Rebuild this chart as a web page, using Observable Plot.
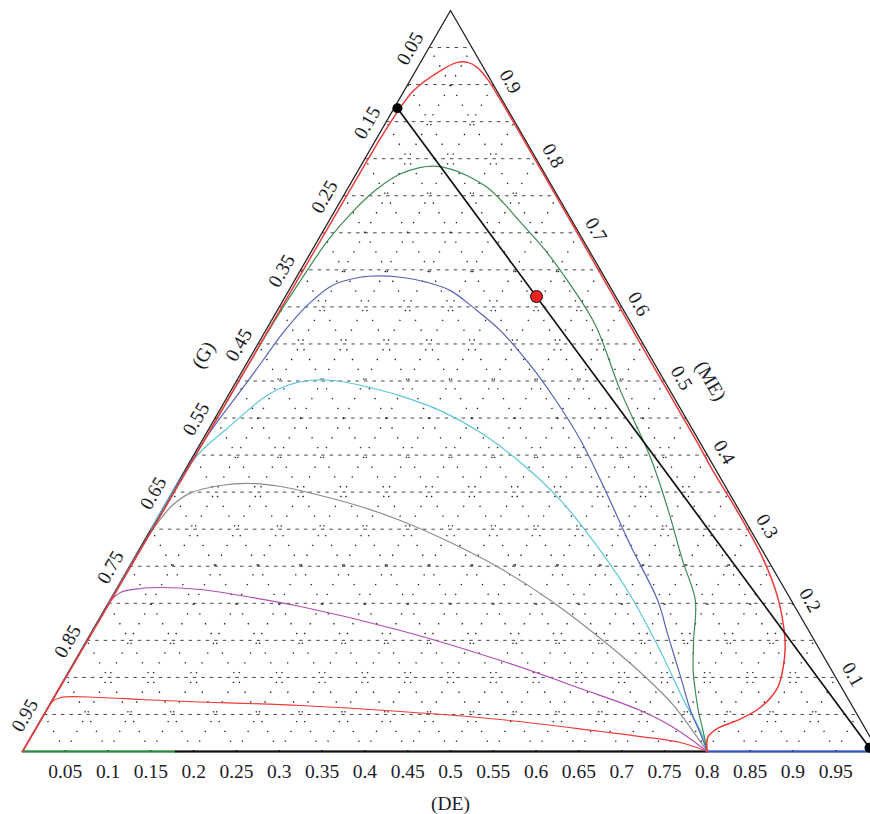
<!DOCTYPE html>
<html><head><meta charset="utf-8">
<script src="https://cdn.jsdelivr.net/npm/d3@7"></script>
<script src="https://cdn.jsdelivr.net/npm/@observablehq/plot@0.6"></script>
<style>html,body{margin:0;padding:0;overflow:hidden;background:#fff}</style>
</head><body><div id="chart"></div>
<script>
// Ternary data: each point is [DE, ME]; G = 1 - DE - ME
const gridLevels = [0.05,0.1,0.15,0.2,0.25,0.3,0.35,0.4,0.45,0.5,0.55,0.6,0.65,0.7,0.75,0.8,0.85,0.9,0.95];
const deTicks = [0.05,0.1,0.15,0.2,0.25,0.3,0.35,0.4,0.45,0.5,0.55,0.6,0.65,0.7,0.75,0.8,0.85,0.9,0.95];
const deLabels = ["0.05","0.1","0.15","0.2","0.25","0.3","0.35","0.4","0.45","0.5","0.55","0.6","0.65","0.7","0.75","0.8","0.85","0.9","0.95"];
const gTicks = [0.05,0.15,0.25,0.35,0.45,0.55,0.65,0.75,0.85,0.95];
const gLabels = ["0.05","0.15","0.25","0.35","0.45","0.55","0.65","0.75","0.85","0.95"];
const meTicks = [0.1,0.2,0.3,0.4,0.5,0.6,0.7,0.8,0.9];
const meLabels = ["0.1","0.2","0.3","0.4","0.5","0.6","0.7","0.8","0.9"];

const triangle = [[0,0],[1,0],[0,1],[0,0]];
const greenBase = [[0,0],[0.179,0]];
const blackBase = [[0.179,0],[0.8,0]];
const blueBase = [[0.8,0],[1,0]];

const redOuter = [[0,0],[0.002,0.3],[0.003,0.6],[0.004,0.8],[0.005,0.842],[0.011,0.892],[0.029,0.919],[0.043,0.930],[0.055,0.930],[0.070,0.923],[0.091,0.906],[0.119,0.879],[0.3,0.698],[0.45,0.547],[0.578,0.419],[0.617,0.379],[0.658,0.339],[0.699,0.298],[0.737,0.258],[0.776,0.211],[0.804,0.170],[0.821,0.140],[0.832,0.113],[0.839,0.086],[0.832,0.059],[0.814,0.042],[0.796,0.031],[0.791,0.019],[0.8,0]];
const greenCurve = [[0,0],[0.002,0.35],[0.004,0.58],[0.007,0.635],[0.012,0.690],[0.021,0.727],[0.034,0.758],[0.051,0.779],[0.07,0.788],[0.0854,0.790],[0.1073,0.786],[0.1312,0.777],[0.1626,0.761],[0.1921,0.740],[0.2211,0.717],[0.273,0.676],[0.326,0.629],[0.382,0.575],[0.455,0.487],[0.535,0.397],[0.592,0.325],[0.642,0.258],[0.684,0.204],[0.709,0.150],[0.729,0.109],[0.745,0.082],[0.762,0.055],[0.781,0.028],[0.8,0]];
const blueCurve = [[0,0],[0.001,0.3],[0.002,0.41],[0.005,0.445],[0.009,0.47],[0.013,0.497],[0.017,0.528],[0.022,0.566],[0.032,0.603],[0.0475,0.629],[0.0744,0.640],[0.097,0.642],[0.1218,0.640],[0.1566,0.633],[0.1889,0.622],[0.2273,0.599],[0.2743,0.568],[0.333,0.521],[0.3859,0.474],[0.442,0.420],[0.505,0.352],[0.5713,0.278],[0.640,0.204],[0.674,0.159],[0.719,0.100],[0.753,0.055],[0.78,0.024],[0.8,0]];
const cyanCurve = [[0,0.3],[0.001,0.37],[0.004,0.398],[0.010,0.415],[0.021,0.436],[0.033,0.460],[0.045,0.480],[0.062,0.494],[0.0861,0.501],[0.1095,0.501],[0.1349,0.497],[0.161,0.491],[0.2014,0.480],[0.2582,0.460],[0.3197,0.4305],[0.3868,0.390],[0.4591,0.339],[0.5396,0.271],[0.605,0.2105],[0.677,0.136],[0.738,0.069],[0.778,0.028],[0.8,0]];
const grayCurve = [[0,0.2],[0.001,0.27],[0.003,0.305],[0.009,0.332],[0.022,0.349],[0.0518,0.359],[0.0856,0.3617],[0.1226,0.3576],[0.1754,0.3455],[0.2296,0.3306],[0.2857,0.3117],[0.359,0.282],[0.4349,0.247],[0.515,0.2038],[0.599,0.1525],[0.6687,0.1066],[0.7295,0.0621],[0.8,0]];
const magentaCurve = [[0,0.2],[0.0072,0.2146],[0.0279,0.22],[0.0505,0.2213],[0.0986,0.2186],[0.1494,0.2105],[0.227,0.1957],[0.36,0.1633],[0.497,0.1228],[0.6094,0.085],[0.6943,0.0553],[0.7443,0.0324],[0.8,0]];
const redBottom = [[0,0.066],[0.008,0.0729],[0.0547,0.0729],[0.1028,0.0702],[0.159,0.0675],[0.2937,0.0621],[0.4146,0.054],[0.5368,0.0432],[0.6617,0.027],[0.7119,0.0202],[0.7626,0.0121],[0.8,0]];

const mixLine = [[0.004,0.868],[0.987,0.005]];
const blackDots = [[0.004,0.868],[0.987,0.005]];
const redDot = [[0.2935,0.614]];

const tx = d => d[0] + d[1] / 2;
const ty = d => d[1];
const FONT = "Liberation Serif, Times New Roman, serif";
const TXT = "#1c1c28";
const FS = 19.5;

const curve = (data, stroke, w = 1.2) => Plot.line(data, {x: tx, y: ty, stroke, strokeWidth: w, curve: "catmull-rom"});

const chart = Plot.plot({
  width: 870,
  height: 814,
  marginLeft: 22,
  marginRight: -8,
  marginTop: 10,
  marginBottom: 63,
  x: {domain: [0, 1], axis: null},
  y: {domain: [0, 1], axis: null},
  style: {background: "#fff", overflow: "visible"},
  marks: [
    // horizontal dashed grid (constant ME)
    Plot.link(gridLevels, {x1: m => m / 2, y1: m => m, x2: m => 1 - m / 2, y2: m => m, stroke: "#333", strokeWidth: 0.9, strokeDasharray: "3.5,5"}),
    // dotted grid, constant DE
    Plot.link(gridLevels, {x1: d => d, y1: 0, x2: d => (1 + d) / 2, y2: d => 1 - d, stroke: "#222", strokeWidth: 1.4, strokeDasharray: "1.3,10"}),
    // dotted grid, constant G
    Plot.link(gridLevels, {x1: g => 1 - g, y1: 0, x2: g => (1 - g) / 2, y2: g => 1 - g, stroke: "#222", strokeWidth: 1.4, strokeDasharray: "1.3,10"}),
    Plot.line(triangle, {x: tx, y: ty, stroke: "#222", strokeWidth: 1.3}),
    Plot.line(greenBase, {x: tx, y: ty, stroke: "#2b8a3c", strokeWidth: 2.2}),
    Plot.line(blackBase, {x: tx, y: ty, stroke: "#111", strokeWidth: 2.2}),
    Plot.line(blueBase, {x: tx, y: ty, stroke: "#3553c8", strokeWidth: 2.2}),
    curve(redBottom, "#ee3a3a"),
    curve(magentaCurve, "#b24db4"),
    curve(grayCurve, "#8c8c8c"),
    curve(cyanCurve, "#5cc8d8"),
    curve(blueCurve, "#5563b8"),
    curve(greenCurve, "#3d8a55"),
    curve(redOuter, "#ee3a3a", 1.5),
    Plot.line(mixLine, {x: tx, y: ty, stroke: "#111", strokeWidth: 1.7}),
    Plot.dot(blackDots, {x: tx, y: ty, r: 5, fill: "#000"}),
    Plot.dot(redDot, {x: tx, y: ty, r: 6, fill: "#f02020", stroke: "#111", strokeWidth: 1}),
    // DE axis labels
    Plot.text(deTicks, {x: d => d, y: 0, text: (d, i) => deLabels[i], dy: 20, fontSize: FS, fontFamily: FONT, fill: TXT}),
    Plot.text(["(DE)"], {x: 0.5, y: 0, text: d => d, dy: 52, fontSize: FS, fontFamily: FONT, fill: TXT}),
    // G axis labels (left edge)
    Plot.text(gTicks, {x: g => (1 - g) / 2, y: g => 1 - g, text: (d, i) => gLabels[i], rotate: -60, dx: -19, dy: 1, fontSize: FS, fontFamily: FONT, fill: TXT}),
    Plot.text(["(G)"], {x: 0.535 / 2, y: 0.535, text: d => d, rotate: -60, dx: -48, dy: 0, fontSize: FS, fontFamily: FONT, fill: TXT}),
    // ME axis labels (right edge)
    Plot.text(meTicks, {x: m => 1 - m / 2, y: m => m, text: (d, i) => meLabels[i], rotate: 60, dx: 17, dy: -3, fontSize: FS, fontFamily: FONT, fill: TXT}),
    Plot.text(["(ME)"], {x: 0.75, y: 0.5, text: d => d, rotate: 60, dx: 46, dy: 0, fontSize: FS, fontFamily: FONT, fill: TXT})
  ]
});
document.getElementById("chart").appendChild(chart);
</script>
</body></html>
